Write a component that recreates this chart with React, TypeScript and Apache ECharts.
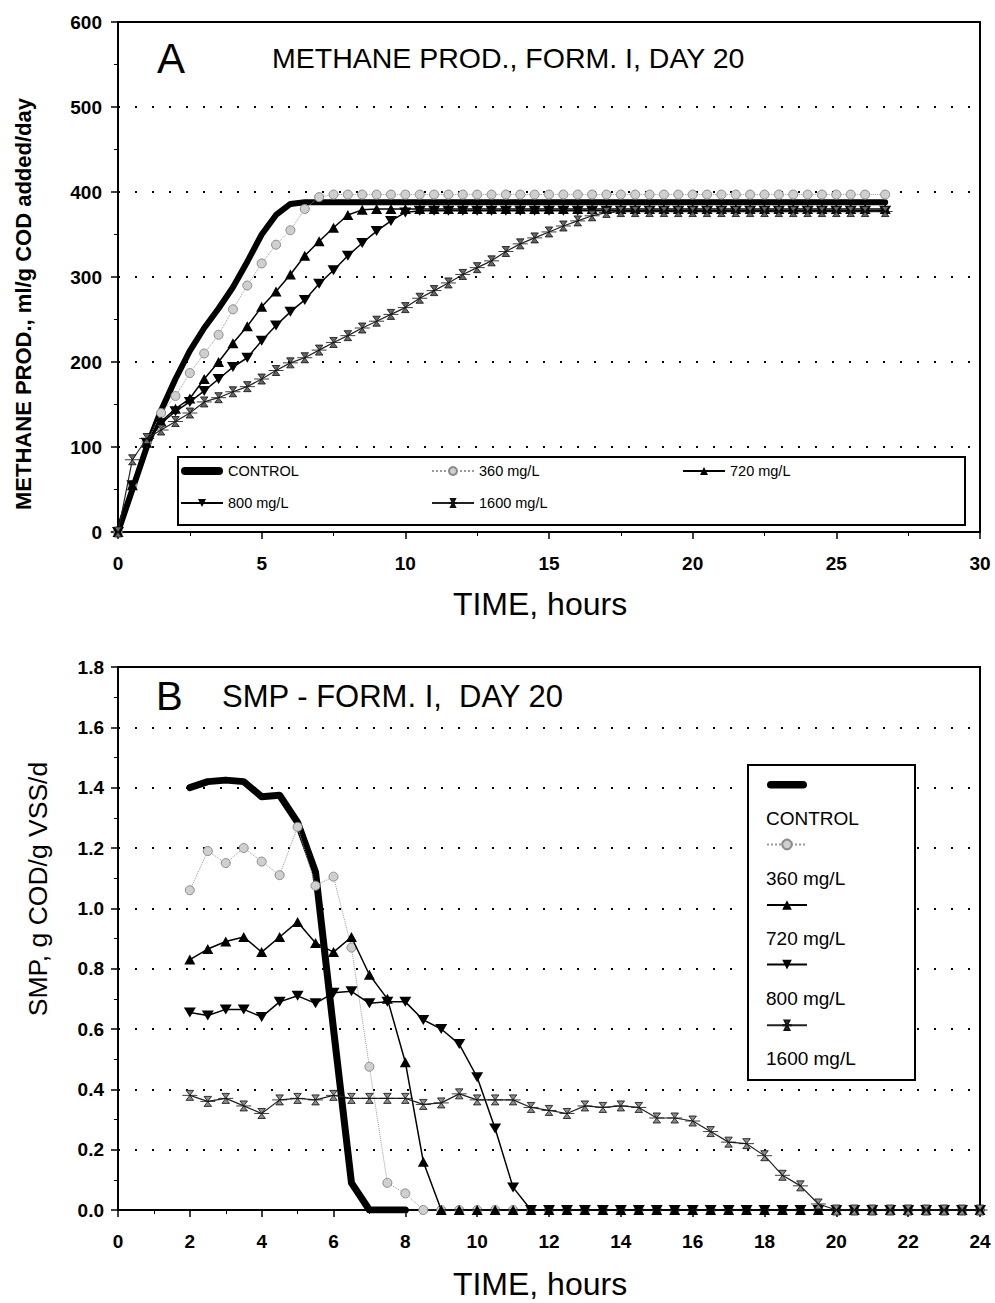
import React, { useEffect, useRef } from "react";
import * as echarts from "echarts";

const FONT = "'Liberation Sans', Arial, Helvetica, sans-serif";
const NAMES = ["CONTROL", "360 mg/L", "720 mg/L", "800 mg/L", "1600 mg/L"];

// ---------- Panel A: methane production (ml/g COD added/day) ----------
const TIME_A = [
  0, 0.5, 1, 1.5, 2, 2.5, 3, 3.5, 4, 4.5, 5, 5.5, 6, 6.5, 7, 7.5, 8, 8.5, 9, 9.5,
  10, 10.5, 11, 11.5, 12, 12.5, 13, 13.5, 14, 14.5, 15, 15.5, 16, 16.5, 17, 17.5, 18, 18.5, 19, 19.5,
  20, 20.5, 21, 21.5, 22, 22.5, 23, 23.5, 24, 24.5, 25, 25.5, 26, 26.7,
];
const CONTROL_A = [
  0, 50, 100, 143, 180, 213, 240, 263, 288, 318, 350, 373, 386, 388,
  388, 388, 388, 388, 388, 388, 388, 388, 388, 388,
  388, 388, 388, 388, 388, 388, 388, 388, 388, 388,
  388, 388, 388, 388, 388, 388, 388, 388, 388, 388,
  388, 388, 388, 388, 388, 388, 388, 388, 388, 388,
];
const MG360_A = [
  0, 55, 105, 140, 160, 187, 210, 232, 262, 290, 316, 338, 355, 380, 394,
  397, 397, 397, 397, 397, 397, 397, 397, 397, 397,
  397, 397, 397, 397, 397, 397, 397, 397, 397, 397,
  397, 397, 397, 397, 397, 397, 397, 397, 397, 397,
  397, 397, 397, 397, 397, 397, 397, 397, 397,
];
const MG720_A = [
  0, 55, 105, 130, 145, 157, 180, 200, 222, 242, 265, 283, 303, 325, 342, 358, 373, 379,
  380, 380, 380, 380, 380, 380, 380, 380, 380, 380,
  380, 380, 380, 380, 380, 380, 380, 380, 380, 380,
  380, 380, 380, 380, 380, 380, 380, 380, 380, 380,
  380, 380, 380, 380, 380, 380,
];
const MG800_A = [
  0, 55, 105, 128, 142, 153, 166, 180, 194, 205, 225, 243, 259, 273, 292, 308, 325, 340, 354, 366, 376,
  378, 378, 378, 378, 378, 378, 378, 378, 378, 378,
  378, 378, 378, 378, 378, 378, 378, 378, 378, 378,
  378, 378, 378, 378, 378, 378, 378, 378, 378, 378,
  378, 378, 378,
];
const MG1600_A = [
  0, 85, 110, 120, 130, 140, 153, 158, 165, 171, 180, 190, 199, 205, 214, 223, 231, 240, 248, 256,
  264, 275, 284, 293, 303, 311, 319, 330, 339, 346, 353, 360, 366, 372, 376,
  377, 377, 377, 377, 377, 377, 377, 377, 377, 377,
  377, 377, 377, 377, 377, 377, 377, 377, 377,
];

// ---------- Panel B: SMP (g COD/g VSS/d) ----------
const TIME_B = [
  2, 2.5, 3, 3.5, 4, 4.5, 5, 5.5, 6, 6.5, 7, 7.5, 8, 8.5, 9, 9.5, 10, 10.5, 11, 11.5,
  12, 12.5, 13, 13.5, 14, 14.5, 15, 15.5, 16, 16.5, 17, 17.5, 18, 18.5, 19, 19.5,
  20, 20.5, 21, 21.5, 22, 22.5, 23, 23.5, 24,
];
const CONTROL_B = [1.4, 1.42, 1.425, 1.42, 1.37, 1.375, 1.285, 1.12, 0.6, 0.09, 0.0, 0.0, 0.0];
const MG360_B = [
  1.06, 1.19, 1.15, 1.2, 1.155, 1.11, 1.27, 1.075, 1.105, 0.87, 0.475, 0.09, 0.055, 0.0,
  0, 0, 0, 0, 0, 0, 0, 0, 0, 0, 0, 0, 0, 0, 0, 0, 0, 0, 0, 0, 0, 0, 0, 0, 0, 0, 0, 0, 0, 0, 0,
];
const MG720_B = [
  0.83, 0.865, 0.89, 0.905, 0.855, 0.905, 0.955, 0.885, 0.855, 0.905, 0.78, 0.7, 0.49, 0.16, 0.0,
  0, 0, 0, 0, 0, 0, 0, 0, 0, 0, 0, 0, 0, 0, 0, 0, 0, 0, 0, 0, 0, 0, 0, 0, 0, 0, 0, 0, 0, 0,
];
const MG800_B = [
  0.655, 0.645, 0.665, 0.665, 0.64, 0.69, 0.71, 0.685, 0.72, 0.725, 0.685, 0.69, 0.69, 0.63, 0.6,
  0.55, 0.44, 0.27, 0.075, 0.0,
  0, 0, 0, 0, 0, 0, 0, 0, 0, 0, 0, 0, 0, 0, 0, 0, 0, 0, 0, 0, 0, 0, 0, 0, 0,
];
const MG1600_B = [
  0.38, 0.36, 0.37, 0.345, 0.32, 0.365, 0.37, 0.365, 0.38, 0.37, 0.37, 0.37, 0.37, 0.35, 0.355,
  0.385, 0.365, 0.365, 0.365, 0.34, 0.33, 0.32, 0.345, 0.34, 0.345, 0.34, 0.305, 0.305, 0.295,
  0.26, 0.225, 0.22, 0.18, 0.115, 0.08, 0.02, 0.0,
  0, 0, 0, 0, 0, 0, 0, 0,
];

const HOURGLASS = "path://M0,0 L10,0 L5,5 L10,10 L0,10 L5,5 Z M-5,5 L15,5";
const CAPSULE = "path://M4,0 L38,0 A4,4 0 0 1 38,8 L4,8 A4,4 0 0 1 4,0 Z";

const pairs = (t: number[], v: number[]) => v.map((y, i) => [t[i], y]);

const styleFor = (i: number, panel: number): any => {
  switch (i) {
    case 0:
      return {
        symbol: "none",
        itemStyle: { color: "#000" },
        lineStyle: { color: "#000", width: panel === 0 ? 6 : 7, cap: "round", join: "round" },
      };
    case 1:
      return {
        symbol: "circle", symbolSize: 9,
        lineStyle: { color: "#9a9a9a", width: 1, type: "dotted" },
        itemStyle: { color: "#cfcfcf", borderColor: "#8a8a8a", borderWidth: 1 },
      };
    case 2:
      return {
        symbol: "triangle", symbolSize: [11, 10],
        lineStyle: { color: "#000", width: 1.5 },
        itemStyle: { color: "#000" },
      };
    case 3:
      return {
        symbol: "triangle", symbolRotate: 180, symbolSize: [12, 10],
        lineStyle: { color: "#000", width: 1.5 },
        itemStyle: { color: "#000" },
      };
    default:
      return {
        symbol: HOURGLASS, symbolSize: [15, 10],
        lineStyle: { color: "#222", width: 1.2 },
        itemStyle: { color: panel === 0 ? "#666" : "#8c8c8c", borderColor: "#111", borderWidth: 0.8 },
      };
  }
};

const gridLine = { show: true, lineStyle: { color: "#000", type: [2, 15], width: 2 } };
const axisLine = { show: true, onZero: false, lineStyle: { color: "#000", width: 2 } };
const tick = { show: true, length: 7, lineStyle: { color: "#000", width: 1.5 } };
const minor = { show: true, splitNumber: 2, length: 4, lineStyle: { color: "#000", width: 1 } };
const tickLabel = { color: "#000", fontFamily: FONT, fontWeight: "bold", fontSize: 19 };
const xTitle = { fontFamily: FONT, fontSize: 32, color: "#000", padding: [0, 18, 0, 0] };

const legendData = NAMES.map((name, i) =>
  i === 0 ? { name, icon: CAPSULE, itemStyle: { color: "#000" } } : { name }
);

export default function App() {
  const ref = useRef<HTMLDivElement>(null);
  useEffect(() => {
    if (!ref.current) return;
    const chart = echarts.init(ref.current, null, { renderer: "svg" });
    const dataA = [CONTROL_A, MG360_A, MG720_A, MG800_A, MG1600_A];
    const dataB = [CONTROL_B, MG360_B, MG720_B, MG800_B, MG1600_B];
    const series: any[] = [];
    NAMES.forEach((name, i) => {
      series.push({
        type: "line", name, xAxisIndex: 0, yAxisIndex: 0,
        data: pairs(TIME_A, dataA[i]), ...styleFor(i, 0), z: 2 + i,
      });
    });
    NAMES.forEach((name, i) => {
      series.push({
        type: "line", name, xAxisIndex: 1, yAxisIndex: 1,
        data: pairs(TIME_B, dataB[i]), ...styleFor(i, 1), z: 2 + i,
      });
    });

    const legendNamesB = NAMES.map((n, i) => ({
      type: "text", x: 766, y: 818 + 60 * i, z: 10,
      style: { text: n, fontFamily: FONT, fontSize: 19, fill: "#000", verticalAlign: "middle" },
    }));

    chart.setOption({
      animation: false,
      backgroundColor: "#fff",
      grid: [
        { left: 118, top: 22, width: 862, height: 510, show: true, borderColor: "#000", borderWidth: 2 },
        { left: 118, top: 667, width: 862, height: 543, show: true, borderColor: "#000", borderWidth: 2 },
      ],
      xAxis: [
        {
          type: "value", gridIndex: 0, min: 0, max: 30, interval: 5,
          axisLine, axisTick: tick, minorTick: minor, splitLine: { show: false },
          axisLabel: { ...tickLabel, margin: 22 },
          name: "TIME, hours", nameLocation: "middle", nameGap: 56, nameTextStyle: xTitle,
        },
        {
          type: "value", gridIndex: 1, min: 0, max: 24, interval: 2,
          axisLine, axisTick: tick, minorTick: minor, splitLine: { show: false },
          axisLabel: { ...tickLabel, margin: 22 },
          name: "TIME, hours", nameLocation: "middle", nameGap: 58, nameTextStyle: xTitle,
        },
      ],
      yAxis: [
        {
          type: "value", gridIndex: 0, min: 0, max: 600, interval: 100,
          axisLine, axisTick: tick, minorTick: minor, splitLine: gridLine,
          axisLabel: { ...tickLabel, margin: 16 },
        },
        {
          type: "value", gridIndex: 1, min: 0, max: 1.8, interval: 0.2,
          axisLine, axisTick: tick, minorTick: minor, splitLine: gridLine,
          axisLabel: { ...tickLabel, margin: 14, formatter: (v: number) => v.toFixed(1) },
        },
      ],
      legend: [
        {
          data: legendData, orient: "horizontal", left: 180, top: 460, width: 800, padding: 0,
          itemWidth: 42, itemHeight: 10, itemGap: 10,
          textStyle: { fontFamily: FONT, fontSize: 14.5, color: "#000", width: 193, lineHeight: 22 },
          z: 6,
        },
        {
          data: legendData, orient: "vertical", left: 766, top: 781, padding: 0,
          itemWidth: 40, itemHeight: 12, itemGap: 50,
          formatter: () => "",
          textStyle: { fontSize: 10, lineHeight: 12 },
          z: 6,
        },
      ],
      graphic: [
        {
          type: "rect", z: 1, shape: { x: 178, y: 457, width: 787, height: 68 },
          style: { fill: "#fff", stroke: "#000", lineWidth: 2 },
        },
        {
          type: "rect", z: 1, shape: { x: 748, y: 765, width: 167, height: 315 },
          style: { fill: "#fff", stroke: "#000", lineWidth: 2 },
        },
        {
          type: "text", x: 157, y: 58, z: 10,
          style: { text: "A", fontFamily: FONT, fontSize: 42, fill: "#000", verticalAlign: "middle" },
        },
        {
          type: "text", x: 272, y: 58, z: 10,
          style: { text: "METHANE PROD., FORM. I, DAY 20", fontFamily: FONT, fontSize: 28.5, fill: "#000", verticalAlign: "middle" },
        },
        {
          type: "text", x: 156, y: 696, z: 10,
          style: { text: "B", fontFamily: FONT, fontSize: 40, fill: "#000", verticalAlign: "middle" },
        },
        {
          type: "text", x: 222, y: 696, z: 10,
          style: { text: "SMP - FORM. I,  DAY 20", fontFamily: FONT, fontSize: 31, fill: "#000", verticalAlign: "middle" },
        },
        {
          type: "text", x: 23, y: 304, rotation: Math.PI / 2, z: 10,
          style: {
            text: "METHANE PROD., ml/g COD added/day", fontFamily: FONT, fontSize: 22, fontWeight: "bold",
            fill: "#000", align: "center", verticalAlign: "middle",
          },
        },
        {
          type: "text", x: 38, y: 889, rotation: Math.PI / 2, z: 10,
          style: {
            text: "SMP, g COD/g VSS/d", fontFamily: FONT, fontSize: 26.5,
            fill: "#000", align: "center", verticalAlign: "middle",
          },
        },
        ...legendNamesB,
      ],
      series,
    });
    return () => chart.dispose();
  }, []);
  return (
    <div
      ref={ref}
      style={{ position: "absolute", left: 0, top: 0, width: 995, height: 1303, background: "#fff" }}
    />
  );
}
